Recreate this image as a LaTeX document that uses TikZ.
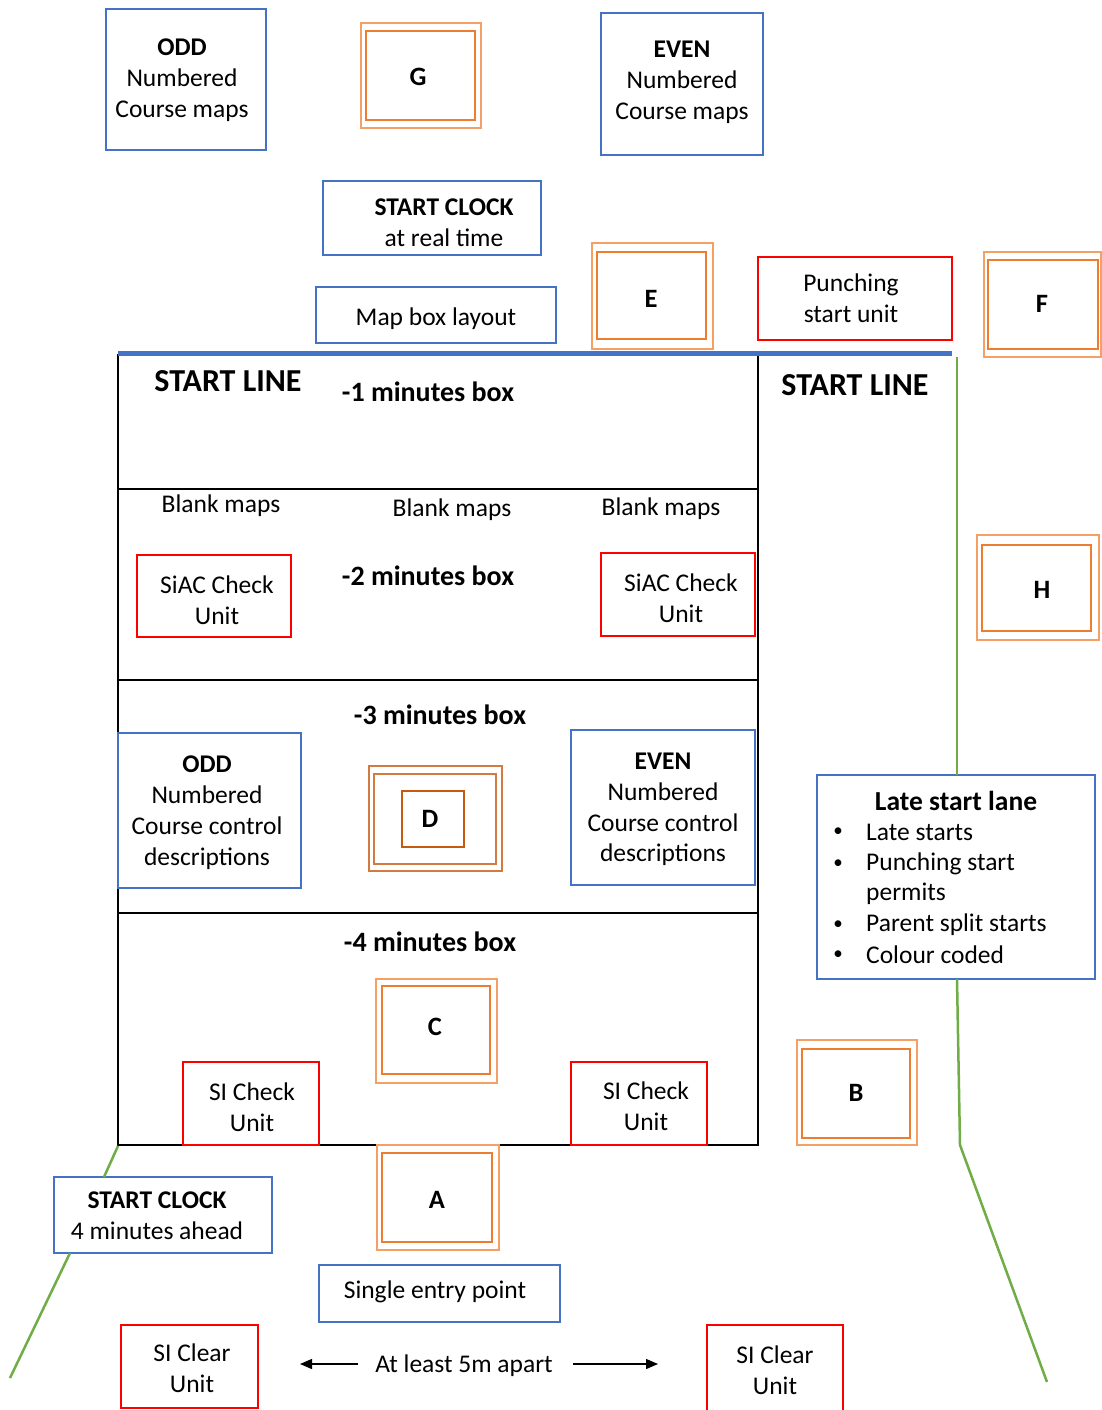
\documentclass[tikz,border=0pt]{standalone}
\usepackage{fontspec}
\setmainfont{Carlito}
\usetikzlibrary{arrows.meta}
\definecolor{ofblue}{HTML}{4472C4}
\definecolor{oforange}{HTML}{ED7D31}
\definecolor{oforangelt}{HTML}{F4A064}
\definecolor{ofdark}{HTML}{C55A11}
\definecolor{ofgreen}{HTML}{70AD47}
\definecolor{ofred}{HTML}{FF0000}
\newcommand\nfont{\fontsize{25.5}{30.8}\selectfont}
\newcommand\bfnt{\fontsize{26.5}{30.8}\selectfont\bfseries}
\newcommand\minfnt{\fontsize{28}{30}\selectfont\bfseries}
\newcommand\slfnt{\fontsize{32}{34}\selectfont\bfseries}
\newcommand\bulfnt{\fontsize{19}{20}\selectfont}
\tikzset{
  box/.style={draw, line width=2pt, inner sep=0pt},
  bluebox/.style={box, draw=ofblue},
  redbox/.style={box, draw=ofred},
  sz/.style 2 args={minimum width=#1, minimum height=#2},
  orout/.style={draw=oforangelt, line width=2pt, inner sep=0pt},
  orin/.style={draw=oforange, line width=2pt, inner sep=0pt},
  dkout/.style={draw=ofdark!80, line width=2pt, inner sep=0pt},
  dkin/.style={draw=ofdark, line width=2pt, inner sep=0pt},
  lbl/.style={inner sep=0pt, font=\nfont, align=center, yshift=-2pt},
  item/.style={inner sep=0pt, font=\nfont, anchor=west},
  bul/.style={inner sep=0pt, font=\bulfnt},
  letter/.style={inner sep=0pt, font=\bfnt},
  minlbl/.style={inner sep=0pt, font=\minfnt},
  sllbl/.style={inner sep=0pt, font=\slfnt},
  mainbox/.style={draw=black, line width=2pt, inner sep=0pt},
  divider/.style={draw=black, line width=2pt},
  startline/.style={draw=ofblue, line width=5pt},
  lane/.style={draw=ofgreen, line width=2.5pt},
  gap/.style={draw=black, line width=1.3pt, -{Triangle[length=12pt,width=10pt]}},
}
\begin{document}
\begin{tikzpicture}[x=1pt,y=-1pt]
\useasboundingbox (0,0) rectangle (1101,1410);
\fill[white] (0,0) rectangle (1101,1410);

% main start box
\node[mainbox, sz={640}{790}] (main) at (438,750) {};
\coordinate (d1l) at (118,489); \coordinate (d1r) at (758,489);
\coordinate (d2l) at (118,680); \coordinate (d2r) at (758,680);
\coordinate (d3l) at (118,913); \coordinate (d3r) at (758,913);
\draw[divider] (d1l) -- (d1r);
\draw[divider] (d2l) -- (d2r);
\draw[divider] (d3l) -- (d3r);

% start line
\coordinate (sl1) at (118,353);
\coordinate (sl2) at (952,353);
\draw[startline] (sl1) -- (sl2);

% top row
\node[bluebox, sz={160}{141}] (oddmaps) at (186,79.5) {};
\node[lbl] (oddmapst) at (182,78) {\textbf{ODD}\\Numbered\\Course maps};
\node[orout, sz={120}{105}] (G) at (421,75.5) {};
\node[orin, sz={109}{89}] (Gi) at (420.5,75.5) {};
\node[letter] (Gt) at (418,77) {G};
\node[bluebox, sz={162}{142}] (evenmaps) at (682,84) {};
\node[lbl] (evenmapst) at (682,80) {\textbf{EVEN}\\Numbered\\Course maps};

\node[bluebox, sz={218}{74}] (clock1) at (432,218) {};
\node[lbl] (clock1t) at (444,221) {\textbf{START CLOCK}\\at real time};
\node[bluebox, sz={240}{56}] (mapbox) at (436,315) {};
\node[lbl] (mapboxt) at (436,317) {Map box layout};
\node[orout, sz={121}{106}] (E) at (652.5,296) {};
\node[orin, sz={109}{87}] (Ei) at (651.5,295.5) {};
\node[letter] (Et) at (651,299) {E};
\node[redbox, sz={194}{83}] (punch) at (855,298.5) {};
\node[lbl] (puncht) at (851,296.5) {Punching\\start unit};
\node[orout, sz={117}{105}] (F) at (1042,304.5) {};
\node[orin, sz={110}{89}] (Fi) at (1043,304.5) {};
\node[letter] (Ft) at (1042,304) {F};

% labels in -1 box
\node[sllbl] (slL) at (228,381) {START LINE};
\node[minlbl] (m1) at (428,392) {-1 minutes box};
\node[sllbl] (slR) at (855,385) {START LINE};

% -2 box
\node[lbl] (bm1) at (221,504) {Blank maps};
\node[lbl] (bm2) at (452,508) {Blank maps};
\node[lbl] (bm3) at (661,507) {Blank maps};
\node[redbox, sz={154}{82}] (siacL) at (214,596) {};
\node[lbl] (siacLt) at (217,598.5) {SiAC Check\\Unit};
\node[minlbl] (m2) at (428,576) {-2 minutes box};
\node[redbox, sz={154}{83}] (siacR) at (678,594.5) {};
\node[lbl] (siacRt) at (681,596.5) {SiAC Check\\Unit};

% H
\node[orout, sz={122}{105}] (H) at (1038,587.5) {};
\node[orin, sz={109}{86}] (Hi) at (1036.5,588) {};
\node[letter] (Ht) at (1042,590) {H};

% -3 box
\node[minlbl] (m3) at (440,715) {-3 minutes box};
\node[bluebox, sz={183}{155}] (oddctl) at (209.5,810.5) {};
\node[lbl] (oddctlt) at (207,810.5) {\textbf{ODD}\\Numbered\\Course control\\descriptions};
\node[dkout, sz={133}{105}] (D) at (435.5,818.5) {};
\node[dkout, sz={122}{90}] (Dm) at (435,819) {};
\node[dkin, sz={62}{56}] (Di) at (433,819) {};
\node[letter] (Dt) at (430,819) {D};
\node[bluebox, sz={184}{155}] (evenctl) at (663,807.5) {};
\node[lbl] (evenctlt) at (663,807.5) {\textbf{EVEN}\\Numbered\\Course control\\descriptions};

% late start lane
\node[bluebox, sz={278}{204}] (late) at (956,877) {};
\node[inner sep=0pt, font=\fontsize{27.5}{30}\selectfont\bfseries] (latet) at (956,801) {Late start lane};
\node[bul] (b1) at (838,832) {•};
\node[item] (l1) at (866,832) {Late starts};
\node[bul] (b2) at (838,864) {•};
\node[item] (l2) at (866,864) {Punching start};
\node[item] (l2b) at (866,894) {permits};
\node[bul] (b3) at (838,925) {•};
\node[item] (l3) at (866,925) {Parent split starts};
\node[bul] (b4) at (838,955) {•};
\node[item] (l4) at (866,955) {Colour coded};

% -4 box
\node[minlbl] (m4) at (430,942) {-4 minutes box};
\node[orout, sz={121}{104}] (C) at (436.5,1031) {};
\node[orin, sz={108}{88}] (Ci) at (436,1030) {};
\node[letter] (Ct) at (435,1027) {C};
\node[redbox, sz={136}{83}] (sichkL) at (251,1103.5) {};
\node[lbl] (sichkLt) at (252,1105.5) {SI Check\\Unit};
\node[redbox, sz={136}{83}] (sichkR) at (639,1103.5) {};
\node[lbl] (sichkRt) at (646,1104.5) {SI Check\\Unit};

\node[orout, sz={120}{105}] (B) at (857,1092.5) {};
\node[orin, sz={108}{89}] (Bi) at (856,1093.5) {};
\node[letter] (Bt) at (856,1093) {B};

% bottom
\node[bluebox, sz={218}{76}] (clock2) at (163,1215) {};
\node[lbl] (clock2t) at (157,1214) {\textbf{START CLOCK}\\4 minutes ahead};
\node[orout, sz={122}{105}] (A) at (438,1197.5) {};
\node[orin, sz={110}{89}] (Ai) at (437,1197.5) {};
\node[letter] (At) at (437,1200) {A};
\node[bluebox, sz={241}{57}] (entry) at (439.5,1293.5) {};
\node[lbl] (entryt) at (435,1290) {Single entry point};
\node[redbox, sz={137}{83}] (clearL) at (189.5,1366.5) {};
\node[lbl] (clearLt) at (192,1366.5) {SI Clear\\Unit};
\node[redbox, sz={136}{86}] (clearR) at (775,1368) {};
\node[lbl] (clearRt) at (775,1368) {SI Clear\\Unit};
\node[lbl] (apart) at (464,1364) {At least 5m apart};
\coordinate (aL1) at (358,1364); \coordinate (aL2) at (300,1364);
\coordinate (aR1) at (573,1364); \coordinate (aR2) at (658,1364);
\draw[gap] (aL1) -- (aL2);
\draw[gap] (aR1) -- (aR2);

% lane lines
\coordinate (gR0) at (957,357);
\coordinate (gR1) at (957,775);
\coordinate (gR2) at (957,979);
\coordinate (gR3) at (960,1145);
\coordinate (gR4) at (1047,1382);
\draw[lane] (gR0) -- (gR1);
\draw[lane] (gR2) -- (gR3) -- (gR4);
\coordinate (gL0) at (118,1146);
\coordinate (gL1) at (104,1177);
\coordinate (gL2) at (70,1253);
\coordinate (gL3) at (10,1378);
\draw[lane] (gL0) -- (gL1);
\draw[lane] (gL2) -- (gL3);
\end{tikzpicture}
\end{document}
